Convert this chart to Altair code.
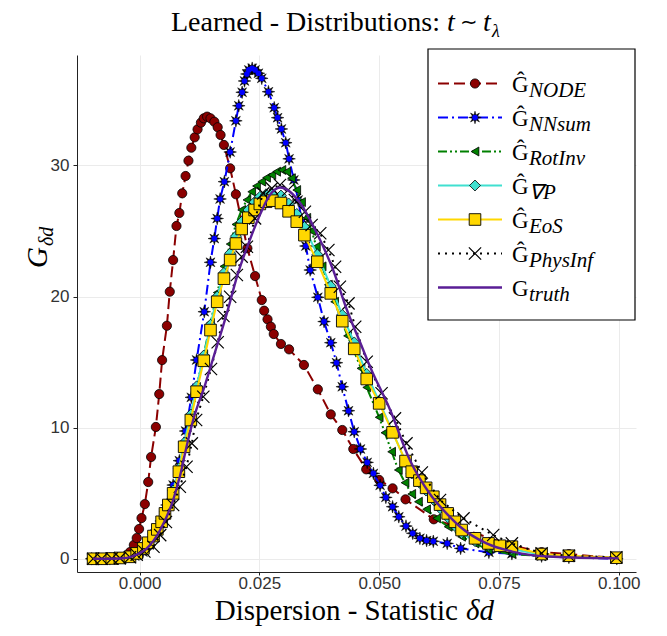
import math
import altair as alt
import pandas as pd

# ---------------- data ----------------
NODE_x = [-0.0100, -0.0085, -0.0068, -0.0052, -0.0038, -0.0027, -0.0020, -0.0012, -0.0006, -0.0001,
          0.0004, 0.0011, 0.0018, 0.0024, 0.0034, 0.0041, 0.0047, 0.0057, 0.0063, 0.0070,
          0.0077, 0.0083, 0.0089, 0.0096, 0.0102, 0.0108, 0.0115, 0.0121, 0.0128, 0.0134,
          0.0141, 0.0148, 0.0156, 0.0163, 0.0169, 0.0176, 0.0189, 0.0201, 0.0225, 0.0241,
          0.0255, 0.0260, 0.0267, 0.0274, 0.0280, 0.0295, 0.0312, 0.0343, 0.0372, 0.0399,
          0.0423, 0.0446, 0.0473, 0.0500, 0.0528, 0.0555, 0.0614, 0.0778, 0.0839, 0.0896, 0.0995]
NODE_y = [0, 0, 0.02, 0.04, 0.08, 0.13, 0.51, 1.05, 1.58, 2.27,
          3.10, 4.17, 5.85, 7.76, 10.05, 12.56, 15.15, 17.77, 20.37, 22.78,
          25.38, 26.37, 27.87, 29.19, 30.36, 31.35, 32.14, 32.75, 33.26, 33.59,
          33.72, 33.59, 33.33, 32.91, 32.32, 31.56, 29.78, 27.8, 23.68, 21.56,
          19.73, 18.92, 18.26, 17.70, 17.14, 16.38, 15.97, 14.78, 12.92, 11.01,
          9.82, 8.37, 6.82, 6.01, 5.37, 4.53, 3.01, 1.0, 0.5, 0.35, 0.05]

NN_x = [-0.0100, -0.0085, -0.0062, -0.0044, -0.0030, -0.0010, 0.0007, 0.0020, 0.0032, 0.0045,
        0.0057, 0.0070, 0.0083, 0.0096, 0.0108, 0.0119, 0.0135, 0.0148, 0.0156, 0.0162,
        0.0168, 0.0177, 0.0189, 0.0201, 0.0207, 0.0214, 0.0219, 0.0224, 0.0228, 0.0235,
        0.0241, 0.0248, 0.0255, 0.0269, 0.0281, 0.0288, 0.0296, 0.0305, 0.0312, 0.0322,
        0.0331, 0.0339, 0.0347, 0.0356, 0.0372, 0.0385, 0.0399, 0.0411, 0.0423, 0.0436,
        0.0448, 0.0461, 0.0475, 0.0488, 0.0502, 0.0514, 0.0528, 0.0541, 0.0556, 0.0570,
        0.0585, 0.0599, 0.0613, 0.0642, 0.0670, 0.0729, 0.0777, 0.0839, 0.0896, 0.0996]
NN_y = [0, 0, 0, 0.01, 0.05, 0.2, 0.51, 1.05, 1.88, 2.88,
        4.1, 5.62, 7.48, 9.74, 12.31, 15.16, 18.84, 22.61, 24.42, 25.95,
        27.44, 28.76, 31.02, 33.4, 34.55, 35.58, 36.44, 36.97, 37.28, 37.41,
        37.28, 37.03, 36.64, 35.62, 34.4, 33.64, 32.78, 31.73, 30.5, 28.89,
        27.36, 25.68, 23.85, 22.02, 19.94, 18.09, 16.48, 14.95, 13.12, 11.29,
        9.69, 8.37, 7.35, 6.51, 5.6, 4.68, 3.97, 3.2, 2.49, 1.94,
        1.56, 1.39, 1.33, 1.17, 0.79, 0.49, 0.38, 0.2, 0.1, 0]

ROT_x = [-0.0097, -0.0079, -0.0058, -0.0041, -0.0020, -0.0006, 0.0008, 0.0018, 0.0029, 0.0037,
         0.0046, 0.0053, 0.0060, 0.0070, 0.0082, 0.0093, 0.0107, 0.0119, 0.0134, 0.0148,
         0.0162, 0.0176, 0.0189, 0.0201, 0.0213, 0.0224, 0.0234, 0.0244, 0.0255, 0.0265,
         0.0276, 0.0286, 0.0297, 0.0307, 0.0317, 0.0328, 0.0338, 0.0349, 0.0359, 0.0369,
         0.0381, 0.0394, 0.0407, 0.0420, 0.0434, 0.0448, 0.0462, 0.0474, 0.0500, 0.0512,
         0.0526, 0.0540, 0.0554, 0.0568, 0.0582, 0.0599, 0.0620, 0.0644, 0.0672, 0.0700,
         0.0728, 0.0777, 0.0839, 0.0896, 0.0995]
ROT_y = [0, 0, 0.02, 0.08, 0.2, 0.45, 0.85, 1.3, 1.85, 2.4,
         3.0, 3.6, 4.3, 5.2, 6.9, 8.8, 10.9, 13.1, 15.6, 18.0,
         20.3, 22.3, 24.0, 25.5, 26.6, 27.37, 27.99, 28.43, 28.76, 29.06,
         29.27, 29.52, 29.65, 29.52, 29.02, 28.12, 27.2, 26.0, 25.0, 23.8,
         22.3, 20.9, 19.6, 18.3, 17.0, 15.8, 14.52, 13.07, 10.79, 9.61,
         8.16, 6.77, 5.8, 4.94, 4.35, 3.77, 3.08, 2.44, 1.68, 1.17,
         0.66, 0.36, 0.2, 0.12, 0.05]

EOS_x = [-0.0097, -0.0079, -0.0058, -0.0041, -0.0020, -0.0006, 0.0008, 0.0018, 0.0029, 0.0037,
         0.0046, 0.0053, 0.0060, 0.0070, 0.0082, 0.0093, 0.0107, 0.0119, 0.0134, 0.0148,
         0.0162, 0.0176, 0.0189, 0.0201, 0.0213, 0.0227, 0.0240, 0.0251, 0.0264, 0.0277,
         0.0295, 0.0311, 0.0328, 0.0344, 0.0371, 0.0399, 0.0423, 0.0448, 0.0474, 0.0500,
         0.0528, 0.0555, 0.0568, 0.0584, 0.0598, 0.0613, 0.0627, 0.0643, 0.0658, 0.0672,
         0.0700, 0.0728, 0.0752, 0.0777, 0.0839, 0.0896, 0.0995]
EOS_y = [0, 0, 0.02, 0.06, 0.15, 0.41, 0.79, 1.22, 1.73, 2.24,
         2.82, 3.46, 4.10, 4.99, 6.64, 8.54, 10.58, 12.74, 15.10, 17.44,
         19.60, 21.36, 22.78, 24.04, 25.15, 26.01, 26.60, 27.06, 27.23, 27.31,
         27.13, 26.50, 25.71, 24.68, 22.65, 20.24, 18.12, 16.01, 13.71, 11.85,
         9.64, 7.45, 6.64, 5.96, 5.41, 4.73, 4.13, 3.46, 2.82, 2.19,
         1.56, 1.17, 0.99, 0.92, 0.36, 0.23, 0.08]

GRADP_x = EOS_x
GRADP_y = [0, 0, 0.02, 0.07, 0.18, 0.45, 0.85, 1.3, 1.85, 2.35,
           2.95, 3.6, 4.25, 5.2, 6.9, 8.85, 11.0, 13.15, 15.5, 17.85,
           20.0, 21.8, 23.3, 24.6, 25.7, 26.6, 27.2, 27.6, 27.8, 27.85,
           27.7, 27.1, 26.3, 25.3, 23.2, 20.8, 18.6, 16.5, 14.1, 12.0,
           9.7, 7.4, 6.5, 5.8, 5.2, 4.5, 3.85, 3.15, 2.5, 1.95,
           1.35, 1.0, 0.85, 0.75, 0.3, 0.18, 0.06]

PHYS_x = [-0.0097, -0.0079, -0.0058, -0.0041, -0.0020, -0.0006, 0.0010, 0.0029, 0.0043, 0.0055,
          0.0070, 0.0084, 0.0098, 0.0109, 0.0118, 0.0133, 0.0149, 0.0163, 0.0175, 0.0189,
          0.0203, 0.0213, 0.0224, 0.0241, 0.0258, 0.0276, 0.0293, 0.0310, 0.0324, 0.0345,
          0.0359, 0.0377, 0.0394, 0.0408, 0.0418, 0.0436, 0.0450, 0.0474, 0.0505, 0.0533,
          0.0557, 0.0589, 0.0627, 0.0676, 0.0738, 0.0777, 0.0839, 0.0896, 0.0995]
PHYS_y = [0, 0, 0.02, 0.05, 0.12, 0.3, 0.55, 0.92, 1.8, 2.8,
          4.1, 5.49, 7.02, 8.8, 10.58, 12.36, 14.47, 16.51, 18.51, 19.98,
          21.64, 23.04, 23.8, 25.96, 27.87, 28.25, 28.5, 28.12, 27.36, 26.47,
          25.45, 24.82, 23.55, 22.27, 20.75, 19.48, 17.7, 15.03, 12.62, 10.71,
          8.8, 6.58, 4.48, 3.08, 1.81, 1.17, 0.41, 0.23, 0.11]

TRUTH_x = [-0.0097, -0.0041, -0.0013, 0.0015, 0.0043, 0.0070, 0.0084, 0.0098, 0.0112, 0.0137,
           0.0157, 0.0182, 0.0205, 0.0230, 0.0251, 0.0272, 0.0293, 0.0314, 0.0335, 0.0370,
           0.0404, 0.0432, 0.0464, 0.0481, 0.0523, 0.0564, 0.0606, 0.0644, 0.0669, 0.0724,
           0.0780, 0.0863, 0.1000]
TRUTH_y = [0, 0.02, 0.21, 0.79, 2.19, 4.48, 6.25, 8.54, 10.6, 13.3,
           15.7, 18.7, 21.72, 24.31, 26.22, 27.74, 28.31, 27.99, 27.13, 24.82,
           22.02, 19.05, 16.17, 14.65, 11.34, 7.53, 4.94, 3.33, 2.44, 1.17,
           0.53, 0.15, 0.03]

LEGEND_SUBS = ["NODE", "NNsum", "RotInv", "∇P", "EoS", "PhysInf", "truth"]
X_TICKS = [0, 0.025, 0.05, 0.075, 0.1]
Y_TICKS = [0, 10, 20, 30]

# ---------------- styling ----------------
W, H = 559, 517
XS = alt.Scale(domain=[-0.01306, 0.1036], nice=False, zero=False)
YS = alt.Scale(domain=[-1.01, 38.42], nice=False, zero=False)
SERIF = "Liberation Serif"
SANS = "Liberation Sans"

XAXIS = alt.Axis(values=X_TICKS, format=".3f", title=None, grid=True, labelPadding=0, tickSize=3)
YAXIS = alt.Axis(values=Y_TICKS, format="d", title=None, grid=True, labelPadding=4, tickSize=4)

# custom marker shapes
_star = []
for k in range(16):
    a = math.pi / 2 + k * math.pi / 8
    r = 1.0 if k % 2 == 0 else 0.42
    _star.append(f"{r * math.cos(a):.3f},{-r * math.sin(a):.3f}")
STAR = "M" + "L".join(_star) + "Z"
XPATH = "M-1,-1L1,1M-1,1L1,-1"

SERIES = [
    dict(x=NODE_x, y=NODE_y, color="#8b0000", dash=[11, 5], marks=[
        dict(shape="circle", size=85, fill="#8b0000", stroke="black", sw=0.8)]),
    dict(x=NN_x, y=NN_y, color="#0000ff", dash=[10, 4, 2, 4], marks=[
        dict(shape=STAR, size=160, fill="black", stroke="black", sw=0.5),
        dict(shape="circle", size=32, fill="#0000ff", stroke="#0000ff", sw=0)]),
    dict(x=ROT_x, y=ROT_y, color="#008000", dash=[9, 3, 2, 3, 2, 3], marks=[
        dict(shape="triangle-left", size=80, fill="#008000", stroke="black", sw=0.8)]),
    dict(x=GRADP_x, y=GRADP_y, color="#40e0d0", dash=None, marks=[
        dict(shape="diamond", size=120, fill="#40e0d0", stroke="black", sw=0.8)]),
    dict(x=EOS_x, y=EOS_y, color="#ffd700", dash=None, marks=[
        dict(shape="square", size=135, fill="#ffd700", stroke="black", sw=0.9)]),
    dict(x=PHYS_x, y=PHYS_y, color="black", dash=[2, 5], marks=[
        dict(shape=XPATH, size=150, fill=None, stroke="black", sw=1.2)]),
    dict(x=TRUTH_x, y=TRUTH_y, color="#5a1e96", dash=None, marks=[]),
]

one = pd.DataFrame({"k": [0]})


def point_mark(m):
    kw = dict(shape=m["shape"], size=m["size"], stroke=m["stroke"], strokeWidth=m["sw"], opacity=1)
    if m["fill"] is None:
        kw["filled"] = False
    else:
        kw["filled"] = True
        kw["fill"] = m["fill"]
        kw["fillOpacity"] = 1
    return kw


layers = []
for s in SERIES:
    df = pd.DataFrame({"x": s["x"], "y": s["y"]})
    enc = dict(x=alt.X("x:Q", scale=XS, axis=XAXIS), y=alt.Y("y:Q", scale=YS, axis=YAXIS))
    lk = dict(color=s["color"], strokeWidth=2.4 if s["color"] == "#5a1e96" else 2,
              interpolate="monotone" if s["color"] == "#5a1e96" else "linear")
    if s["dash"]:
        lk["strokeDash"] = s["dash"]
    layers.append(alt.Chart(df).mark_line(**lk).encode(**enc))
    for m in s["marks"]:
        layers.append(alt.Chart(df).mark_point(**point_mark(m)).encode(**enc))

# ---------------- legend (drawn inside the plot) ----------------
layers.append(alt.Chart(one).mark_rect(fill="white", stroke="black", strokeWidth=1.2).encode(
    x=alt.value(351), x2=alt.value(558), y=alt.value(-6), y2=alt.value(265)))
for i, (s, sub) in enumerate(zip(SERIES, LEGEND_SUBS)):
    ry = 28.5 + i * 34
    lk = dict(color=s["color"], strokeWidth=2.4 if i == 6 else 2)
    if s["dash"]:
        lk["strokeDash"] = s["dash"]
    layers.append(alt.Chart(one).mark_rule(**lk).encode(
        x=alt.value(361), x2=alt.value(425), y=alt.value(ry)))
    for m in s["marks"]:
        layers.append(alt.Chart(one).mark_point(**point_mark(m)).encode(
            x=alt.value(398), y=alt.value(ry)))
    layers.append(alt.Chart(one).mark_text(
        text="G" if i == 6 else "Ĝ", font=SERIF, fontSize=23, align="left", baseline="alphabetic",
        color="black").encode(x=alt.value(435), y=alt.value(ry + 8)))
    layers.append(alt.Chart(one).mark_text(
        text=sub, font=SERIF, fontSize=21, fontStyle="italic", align="left", baseline="alphabetic",
        color="black").encode(x=alt.value(452), y=alt.value(ry + 13)))

# ---------------- title and axis titles ----------------
def txt(t, x, y, size, italic=False, align="left", angle=0):
    kw = dict(text=t, font=SERIF, fontSize=size, align=align, baseline="alphabetic", color="black")
    if italic:
        kw["fontStyle"] = "italic"
    if angle:
        kw["angle"] = angle
    return alt.Chart(one).mark_text(**kw).encode(x=alt.value(x), y=alt.value(y))


layers += [
    txt("Learned - Distributions:", 363, -24, 28, align="right"),
    txt("t", 370, -24, 28, italic=True),
    txt("∼", 392, -26, 21, align="center"),
    txt("t", 406, -24, 28, italic=True),
    txt("λ", 415, -18, 18, italic=True),
    txt("Dispersion - Statistic", 381, 565, 29, align="right"),
    txt("δd", 389, 565, 29, italic=True),
    txt("G", -30, 213, 29, italic=True, angle=270),
    txt("δd", -24, 191, 20, italic=True, angle=270),
]

chart = alt.layer(*layers).properties(
    width=W, height=H,
    padding={"left": 69, "top": 47, "right": 20, "bottom": 60},
    autosize=alt.AutoSizeParams(type="none"),
).configure_view(stroke=None).configure_axis(
    domainColor="#222222", domainWidth=1, tickColor="#222222",
    gridColor="#ebebeb", gridWidth=1,
    labelFont=SANS, labelFontSize=17, labelColor="#333333",
)

chart.save("out.html", embed_options={"renderer": "svg", "actions": False})
